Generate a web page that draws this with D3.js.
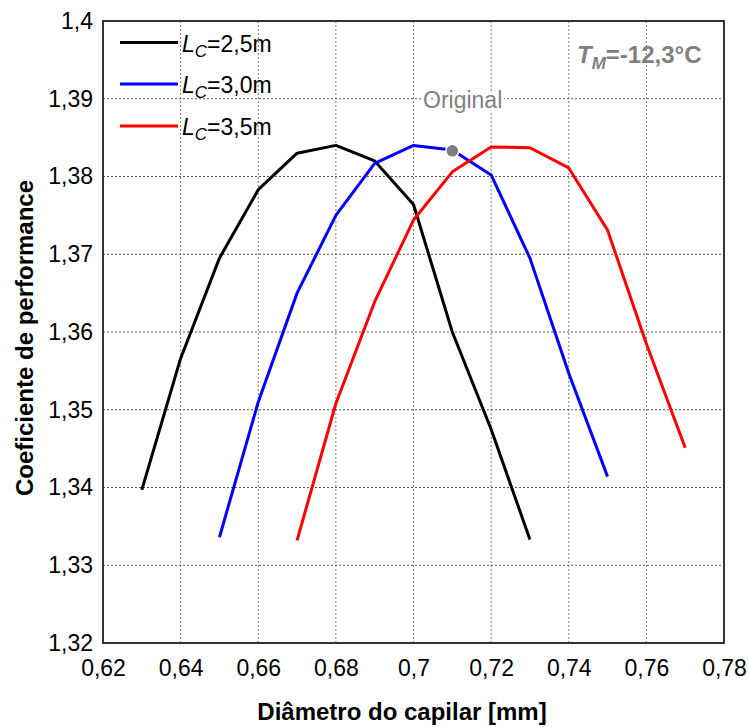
<!DOCTYPE html>
<html>
<head>
<meta charset="utf-8">
<script src="https://cdn.jsdelivr.net/npm/d3@7"></script>
<style>
  html, body { margin: 0; padding: 0; background: #fff; }
  svg { display: block; font-family: "Liberation Sans", Arial, sans-serif; }
</style>
</head>
<body>
<svg id="chart" width="749" height="727"></svg>
<script>
// ---- data ----
const xBlack = [0.63, 0.64, 0.65, 0.66, 0.67, 0.68, 0.69, 0.70, 0.71, 0.72, 0.73];
const yBlack = [1.3397, 1.3566, 1.3695, 1.3783, 1.3830, 1.3840, 1.3820, 1.3764, 1.3600, 1.3475, 1.3333];
const xBlue = [0.65, 0.66, 0.67, 0.68, 0.69, 0.70, 0.71, 0.72, 0.73, 0.74, 0.75];
const yBlue = [1.3336, 1.3510, 1.3650, 1.3750, 1.3817, 1.3840, 1.3834, 1.3802, 1.3695, 1.3547, 1.3414];
const xRed = [0.67, 0.68, 0.69, 0.70, 0.71, 0.72, 0.73, 0.74, 0.75, 0.76, 0.77];
const yRed = [1.3332, 1.3508, 1.3639, 1.3744, 1.3806, 1.3838, 1.3837, 1.3811, 1.3731, 1.3585, 1.3451];
const seriesNames = ["2,5m", "3,0m", "3,5m"];
const seriesColors = ["#000000", "#0000ff", "#ff0000"];
const originalPoint = [0.71, 1.3833];
const xTicks = [0.62, 0.64, 0.66, 0.68, 0.70, 0.72, 0.74, 0.76, 0.78];
const yTicks = [1.32, 1.33, 1.34, 1.35, 1.36, 1.37, 1.38, 1.39, 1.40];

// ---- layout ----
const svg = d3.select("#chart");
const L = 103, R = 724, T = 21, B = 643;
const x = d3.scaleLinear().domain([0.62, 0.78]).range([L, R]);
const y = d3.scaleLinear().domain([1.32, 1.40]).range([B, T]);
const fmt = d => String(+d.toFixed(2)).replace(".", ",");

// grid
const grid = svg.append("g");
grid.selectAll("line.v").data(xTicks.slice(1, -1)).join("line")
  .attr("x1", d => x(d)).attr("x2", d => x(d)).attr("y1", T).attr("y2", B)
  .attr("stroke", "#777").attr("stroke-width", 1).attr("stroke-dasharray", "2,2");
grid.selectAll("line.h").data(yTicks.slice(1, -1)).join("line")
  .attr("x1", L).attr("x2", R).attr("y1", d => y(d)).attr("y2", d => y(d))
  .attr("stroke", "#555").attr("stroke-width", 1).attr("stroke-dasharray", "2,2");

// axes
const xAxis = d3.axisBottom(x).tickValues(xTicks).tickSize(0).tickPadding(17).tickFormat(fmt);
const yAxis = d3.axisLeft(y).tickValues(yTicks).tickSize(0).tickPadding(10).tickFormat(fmt);
const gx = svg.append("g").attr("transform", `translate(0,${B})`).call(xAxis);
const gy = svg.append("g").attr("transform", `translate(${L},0)`).call(yAxis);
[gx, gy].forEach(g => {
  g.select(".domain").remove();
  g.selectAll("text").attr("font-size", 23).attr("fill", "#000")
    .attr("font-family", "'Liberation Sans', Arial, sans-serif");
});

// frame
svg.append("rect").attr("x", L).attr("y", T).attr("width", R - L).attr("height", B - T)
  .attr("fill", "none").attr("stroke", "#333").attr("stroke-width", 2);

// "Original" label (white backing hides grid)
svg.append("text").attr("x", 423).attr("y", 108)
  .attr("font-size", 23).attr("fill", "#808080")
  .attr("stroke", "#fff").attr("stroke-width", 6).attr("paint-order", "stroke")
  .text("Original");

// lines
const line = d3.line().x(d => x(d[0])).y(d => y(d[1]));
const series = [
  d3.zip(xBlack, yBlack),
  d3.zip(xBlue, yBlue),
  d3.zip(xRed, yRed)
];
series.forEach((s, i) => {
  svg.append("path").datum(s).attr("d", line)
    .attr("fill", "none").attr("stroke", seriesColors[i]).attr("stroke-width", 3)
    .attr("stroke-linejoin", "round");
});

// original point
svg.append("circle").attr("cx", x(originalPoint[0])).attr("cy", y(originalPoint[1]))
  .attr("r", 6.5).attr("fill", "#808080").attr("stroke", "#fff").attr("stroke-width", 1.5);

// legend
const legY = [42.5, 84, 126];
seriesNames.forEach((n, i) => {
  svg.append("line").attr("x1", 120).attr("x2", 178).attr("y1", legY[i]).attr("y2", legY[i])
    .attr("stroke", seriesColors[i]).attr("stroke-width", 3);
  const t = svg.append("text").attr("x", 182).attr("y", legY[i] + 9).attr("font-size", 23).attr("fill", "#000");
  t.append("tspan").attr("font-style", "italic").text("L");
  t.append("tspan").attr("font-style", "italic").attr("font-size", 17).attr("dy", 5).text("C");
  t.append("tspan").attr("dy", -5).text("=" + n);
});

// T_M label
const tm = svg.append("text").attr("x", 577).attr("y", 63).attr("font-size", 24)
  .attr("font-weight", "bold").attr("fill", "#808080");
tm.append("tspan").attr("font-style", "italic").text("T");
tm.append("tspan").attr("font-style", "italic").attr("font-size", 17).attr("dy", 6).text("M");
tm.append("tspan").attr("dy", -6).text("=-12,3°C");

// axis titles
svg.append("text").attr("x", 402).attr("y", 720).attr("text-anchor", "middle")
  .attr("font-size", 24).attr("font-weight", "bold").attr("fill", "#000")
  .text("Diâmetro do capilar [mm]");
svg.append("text").attr("transform", "translate(33,338) rotate(-90)").attr("text-anchor", "middle")
  .attr("font-size", 24).attr("font-weight", "bold").attr("fill", "#000")
  .text("Coeficiente de performance");
</script>
</body>
</html>
